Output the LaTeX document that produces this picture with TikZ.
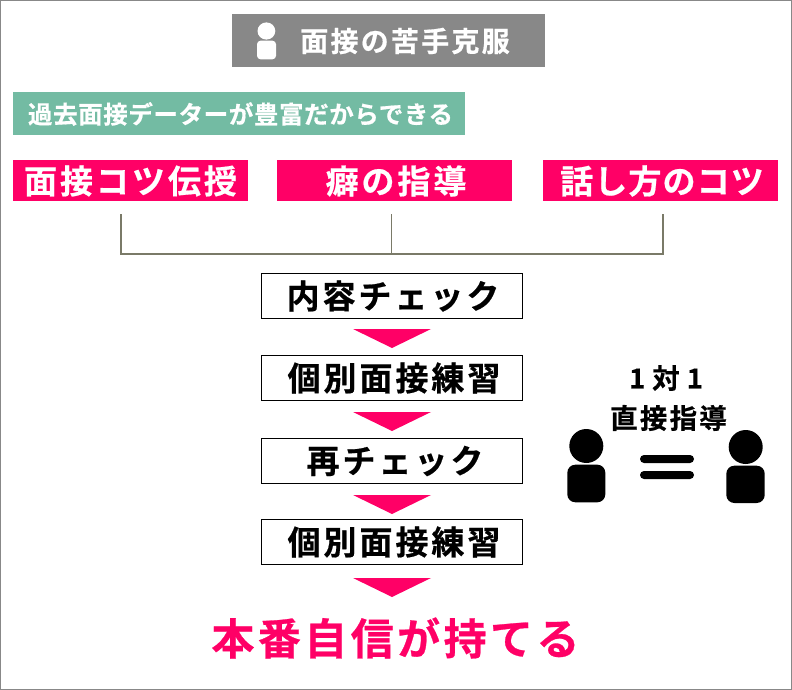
\documentclass[tikz,border=0pt]{standalone}
\usepackage{fontspec}
\setmainfont{Noto Sans CJK JP}[BoldFont=* Bold]
\newfontfamily\jpA{Noto Sans CJK JP}[BoldFont=* Bold,BoldFeatures={FakeBold=0.6},LetterSpace=8]
\newfontfamily\jpAw{Noto Sans CJK JP}[BoldFont=* Bold,BoldFeatures={FakeBold=0.6},LetterSpace=9]
\newfontfamily\jpB{Noto Sans CJK JP}[BoldFont=* Bold,BoldFeatures={FakeBold=0.6},LetterSpace=2.5]
\newfontfamily\jpD{Noto Sans CJK JP}[BoldFont=* Bold,BoldFeatures={FakeBold=0.6},LetterSpace=3.5]
\definecolor{pinkc}{HTML}{FF0066}
\definecolor{greenc}{HTML}{73BBA3}
\definecolor{grayc}{HTML}{888888}
\definecolor{linec}{HTML}{7A7A68}
\tikzset{
  boxbase/.style={anchor=north west,inner sep=0pt,outer sep=0pt,align=center},
  pinkbox/.style={boxbase,fill=pinkc,minimum width=235pt,minimum height=41pt},
  pinktext/.style={label,text=white,font=\fontsize{33}{33}\selectfont\jpAw\bfseries},
  flowbox/.style={boxbase,draw=black,line width=1pt,fill=white,minimum width=261pt,minimum height=45pt},
  flowtext/.style={label,font=\fontsize{33}{33}\selectfont\jpAw\bfseries},
  flowtri/.style={fill=pinkc},
  person/.style={fill=black},
  bracket/.style={draw=linec,line width=2pt},
  label/.style={inner sep=0pt,outer sep=0pt}
}
\begin{document}
\begin{tikzpicture}[x=1pt,y=-1pt]
\useasboundingbox (0,0) rectangle (792,690);
\draw[grayc,line width=1pt] (0.5,0.5) rectangle (791.5,689.5);
% header
\node[boxbase,fill=grayc,minimum width=313pt,minimum height=53.5pt] (head) at (232,14) {};
\node[label,text=white,font=\fontsize{28}{28}\selectfont\jpA\bfseries] (headt) at (405,41) {面接の苦手克服};
\fill[white] (266.4,31) ellipse (8.9pt and 8.6pt);
\fill[white,rounded corners=3.5pt] (257,40.7) rectangle (276,59.3);
% green
\node[boxbase,fill=greenc,minimum width=452pt,minimum height=43pt] (green) at (12.5,92) {};
\node[label,text=white,font=\fontsize{24.5}{24.5}\selectfont\jpB\bfseries] (greent) at (240.5,114) {過去面接データーが豊富だからできる};
% pink
\node[pinkbox] (p1) at (12.5,160) {};
\node[pinkbox] (p2) at (277,160) {};
\node[pinkbox] (p3) at (542.5,160) {};
\node[pinktext] (p1t) at (130.5,181) {面接コツ伝授};
\node[pinktext] (p2t) at (396,181) {癖の指導};
\node[label,text=white,font=\fontsize{33}{33}\selectfont\jpD\bfseries] (p3t) at (662,181) {話し方のコツ};
% bracket
\coordinate (bl) at (121,214);
\coordinate (bm) at (391,214);
\coordinate (br) at (663,214);
\coordinate (bbm) at (391,254);
\draw[bracket] (bl) -- (121,254) -- (663,254) -- (br);
\draw[linec,line width=1pt] (bm) -- (bbm);
% flow
\node[flowbox] (f1) at (261.5,273.5) {};
\node[flowbox] (f2) at (261.5,355.5) {};
\node[flowbox] (f3) at (261.5,438.5) {};
\node[flowbox] (f4) at (261.5,519.5) {};
\node[flowtext] (f1t) at (393,296) {内容チェック};
\node[flowtext] (f2t) at (394,378) {個別面接練習};
\node[flowtext] (f3t) at (395,461) {再チェック};
\node[flowtext] (f4t) at (394,542) {個別面接練習};
\fill[flowtri] (353,329) -- (431,329) -- (392,348) -- cycle;
\fill[flowtri] (353,412) -- (431,412) -- (392,431) -- cycle;
\fill[flowtri] (353,495) -- (431,495) -- (392,514) -- cycle;
\fill[flowtri] (353,578) -- (431,578) -- (392,597) -- cycle;
% result
\node[label,text=pinkc,font=\fontsize{43}{43}\selectfont\jpA\bfseries] (res) at (395.5,638) {本番自信が持てる};
% one-on-one
\node[label,font=\fontsize{27.5}{27.5}\selectfont\jpB\bfseries] (t1) at (666,378) {1 対 1};
\node[label,font=\fontsize{27.5}{27.5}\selectfont\jpA\bfseries] (t2) at (668.5,418) {直接指導};
\fill[person] (586.3,446) circle (17pt);
\fill[person,rounded corners=8pt] (567.3,464.7) rectangle (605.3,502.3);
\fill[person] (745.7,447) circle (17pt);
\fill[person,rounded corners=8pt] (726.3,465.7) rectangle (764.7,503);
\fill[black,rounded corners=4pt] (640,455) rectangle (694,463);
\fill[black,rounded corners=4pt] (640,471) rectangle (694,479);
\end{tikzpicture}
\end{document}
